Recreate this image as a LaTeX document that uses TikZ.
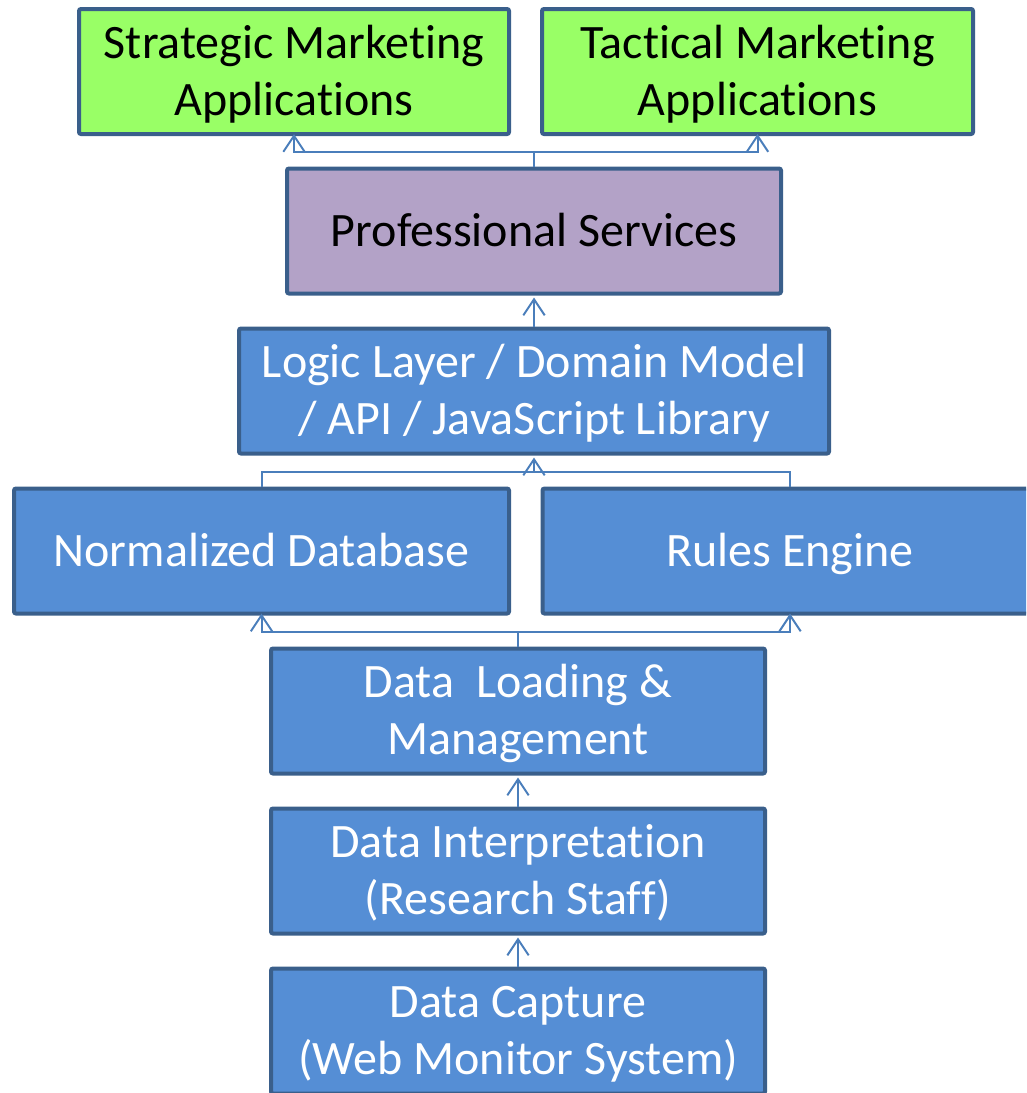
\documentclass[tikz,border=0pt]{standalone}
\usepackage{fontspec}
\setmainfont[Ligatures={NoCommon}]{Carlito}
\usetikzlibrary{arrows.meta}
\definecolor{bordc}{HTML}{3A5F8B}
\definecolor{linec}{HTML}{4A7EBB}
\definecolor{bluef}{HTML}{558ED5}
\definecolor{greenf}{HTML}{99FF66}
\definecolor{purplef}{HTML}{B3A2C7}
% struts that fix the first-line height and last-line depth of a box text
\newcommand\topst{\rule{0pt}{36pt}}
\newcommand\botst{\rule[-12.8pt]{0pt}{0pt}}
\tikzset{
  box/.style={draw=bordc, line width=3pt, rounded corners=1.5pt, align=center,
    inner sep=0pt, minimum height=93.75pt, font=\fontsize{36}{42.75}\selectfont},
  bluebox/.style={box, fill=bluef, text=white},
  greenbox/.style={box, fill=greenf, text=black},
  purplebox/.style={box, fill=purplef, text=black},
  conn/.style={draw=linec, line width=1.5pt},
  arr/.style={conn, -{Straight Barb[length=12pt,width=16pt,line width=1.5pt]}}
}
\begin{document}
\begin{tikzpicture}[x=0.75pt,y=-0.75pt]
\useasboundingbox (0,0) rectangle (1026,1093);
\clip (0,0) rectangle (1026,1093);
% boxes
\node[greenbox, minimum width=322.5pt] (strat) at (294,71.5) {\topst Strategic Marketing\\Applications\botst};
\node[greenbox, minimum width=323.25pt] (tact) at (757.5,71.5) {\topst Tactical Marketing\\Applications\botst};
\node[purplebox, minimum width=370.5pt] (ps) at (534,231) {\topst Professional Services\botst};
\node[bluebox, minimum width=442.5pt] (logic) at (534,391) {\topst Logic Layer / Domain Model\\/ API / JavaScript Library\botst};
\node[bluebox, minimum width=371.25pt] (ndb) at (261.5,551) {\topst Normalized Database\botst};
\node[bluebox, minimum width=371.25pt] (re) at (790,551) {\topst Rules Engine\botst};
\node[bluebox, minimum width=370.5pt] (dl) at (518,711) {\topst Data\ \ Loading \&\\Management\botst};
\node[bluebox, minimum width=370.5pt] (di) at (518,871) {\topst Data Interpretation\\(Research Staff)\botst};
\node[bluebox, minimum width=370.5pt] (dc) at (518,1031) {\topst Data Capture\\(Web Monitor System)\botst};
% junction points of the split connectors
\coordinate (jtop) at (534,152);
\coordinate (jmid) at (534,472);
\coordinate (jlow) at (518,632);
% connectors
\draw[conn] (ps.north) -- (jtop);
\draw[arr] (jtop) -| ([yshift=1.5pt]strat.south);
\draw[arr] (jtop) -| ([yshift=1.5pt]tact.south);
\draw[arr] (ps.north |- logic.north) -- ([yshift=-1.5pt]ps.south);
\draw[conn] (ndb.north) |- (jmid);
\draw[conn] (re.north) |- (jmid);
\draw[arr] (jmid) -- ([yshift=-1.5pt]logic.south);
\draw[conn] (dl.north) -- (jlow);
\draw[arr] (jlow) -| ([yshift=1.5pt]ndb.south);
\draw[arr] (jlow) -| ([yshift=1.5pt]re.south);
\draw[arr] (di.north) -- ([yshift=-1.5pt]dl.south);
\draw[arr] (dc.north) -- ([yshift=-1.5pt]di.south);
\end{tikzpicture}
\end{document}
